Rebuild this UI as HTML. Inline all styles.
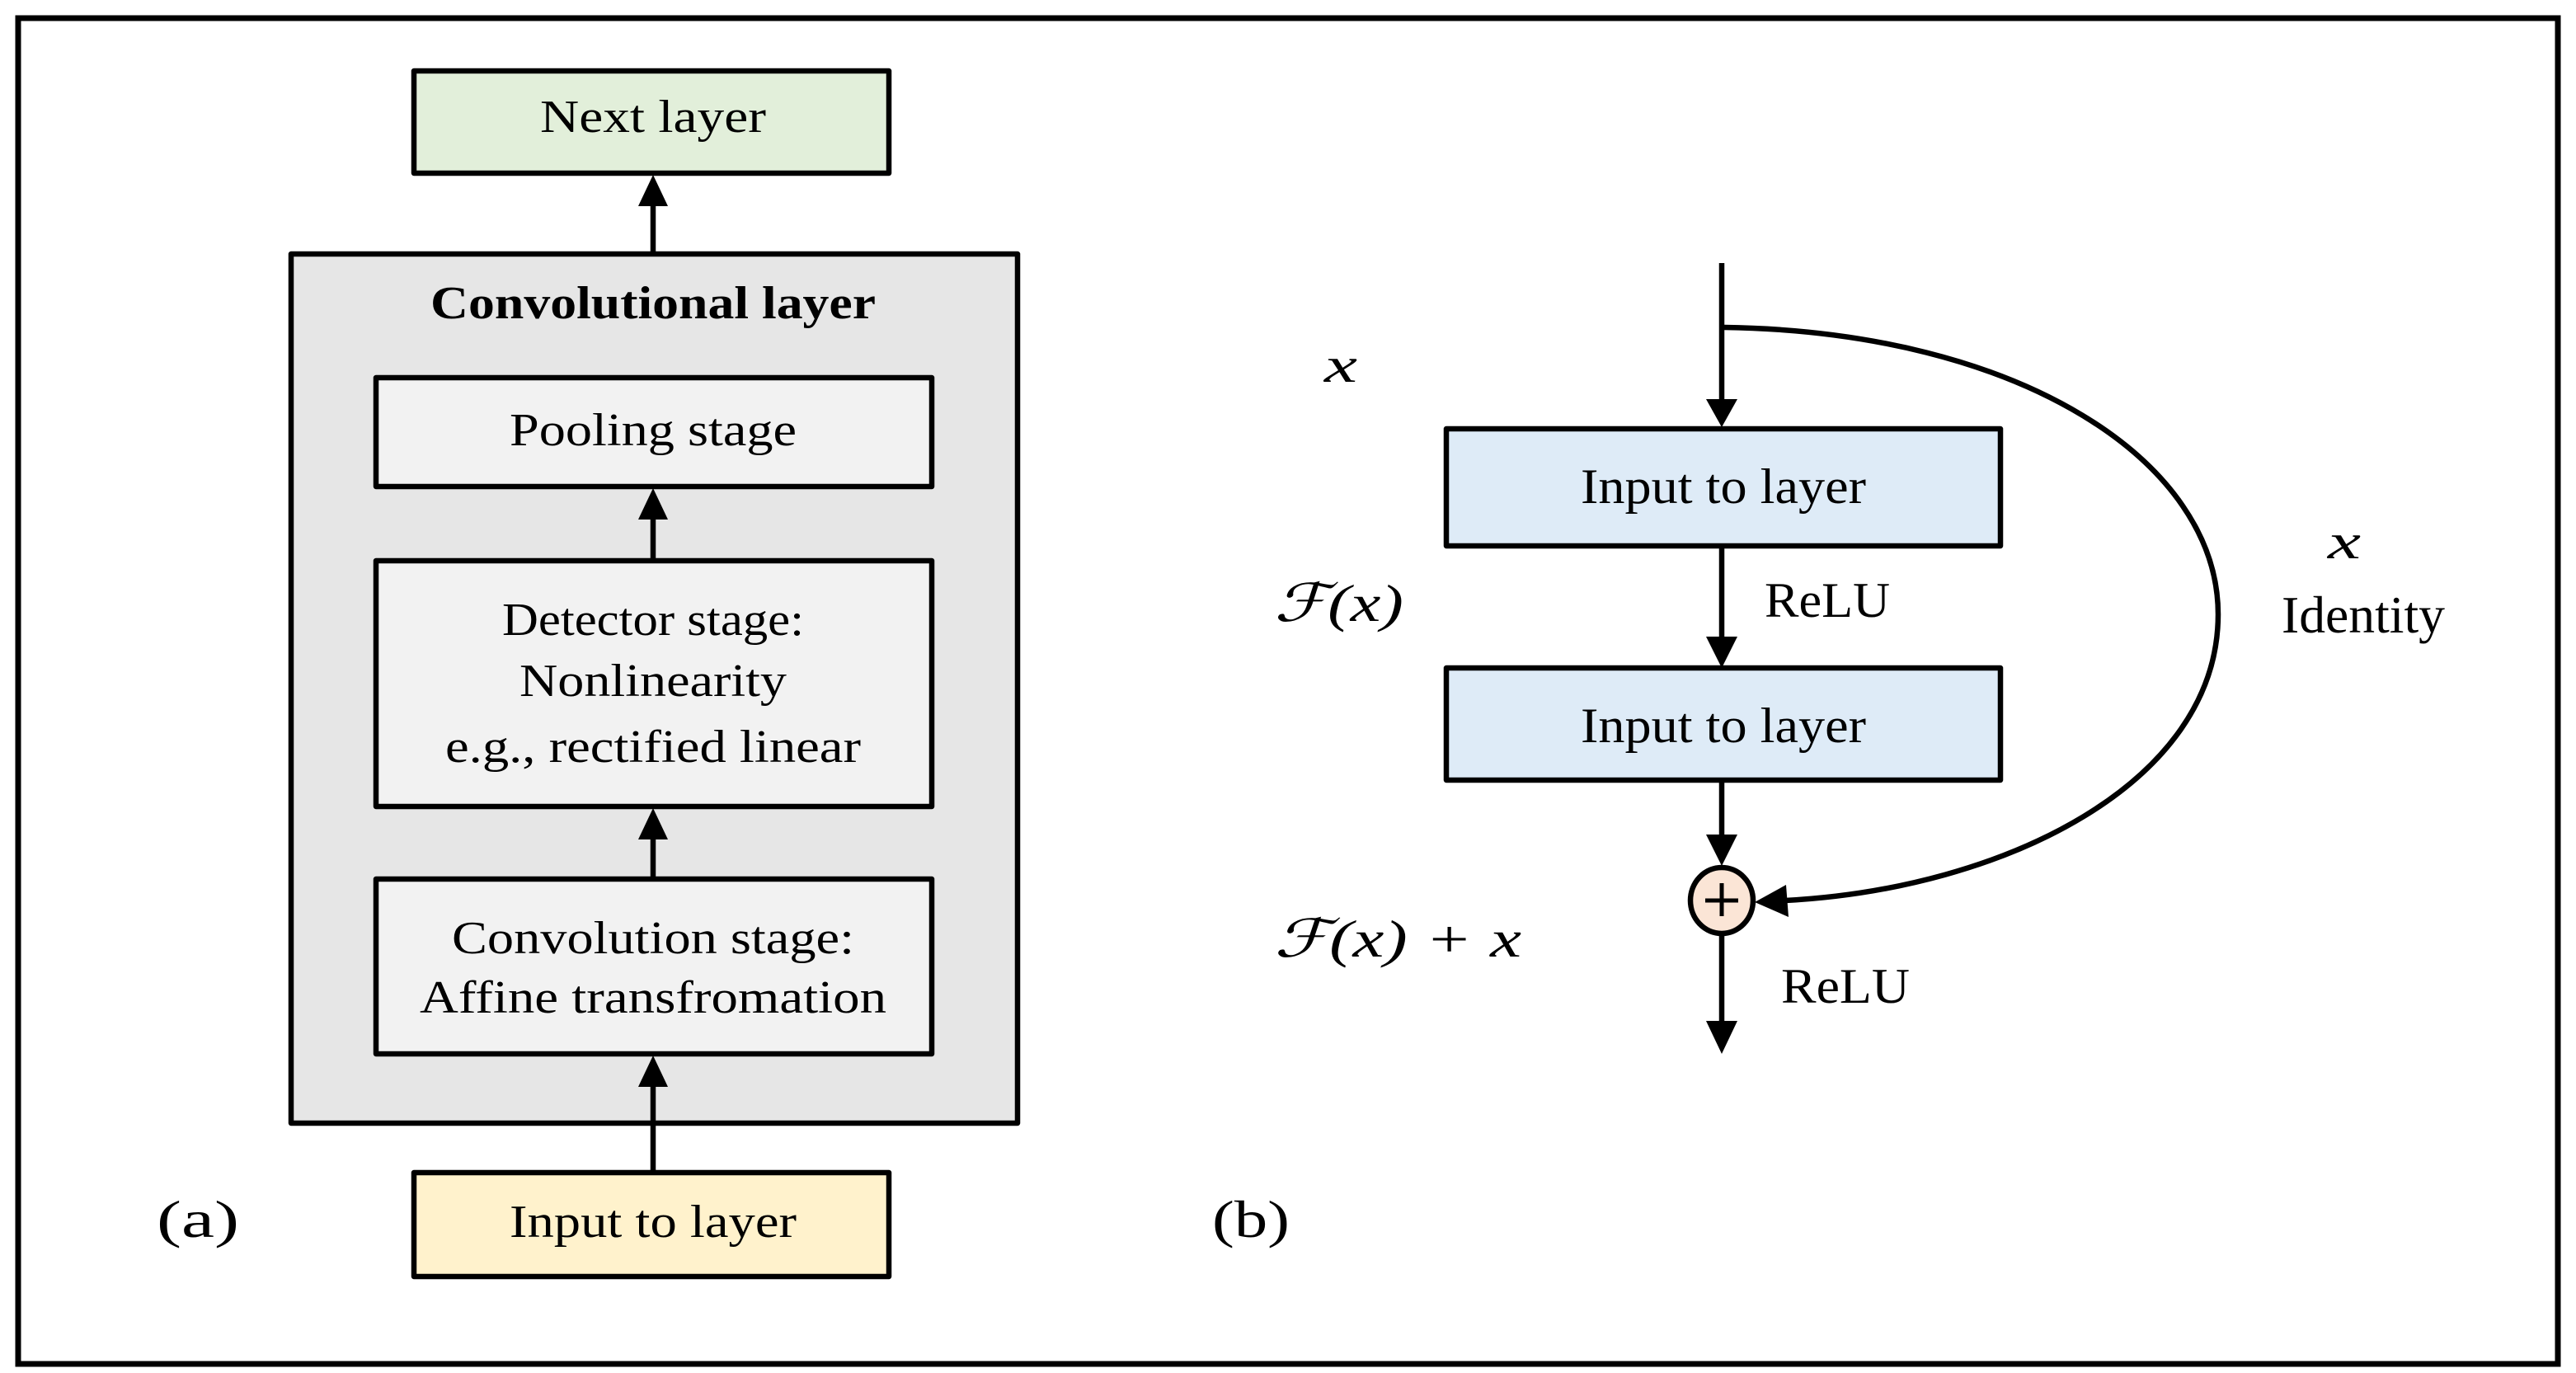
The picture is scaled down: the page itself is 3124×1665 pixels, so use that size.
<!DOCTYPE html>
<html><head><meta charset="utf-8"><style>
html,body{margin:0;padding:0;background:#fff;}
svg{display:block;}
text{font-family:"Liberation Serif",serif;fill:#000;}
</style></head><body>
<svg width="3124" height="1665" viewBox="0 0 3124 1665" xmlns="http://www.w3.org/2000/svg">
<rect x="22" y="22" width="3080" height="1632" fill="#fff" stroke="#000" stroke-width="7"/>
<g stroke="#000" stroke-width="6.5" stroke-linejoin="round">
<rect x="502" y="86" width="576" height="124" fill="#e2efda"/>
<rect x="353" y="308" width="881" height="1054" fill="#e6e6e6"/>
<rect x="456" y="458" width="674" height="132" fill="#f2f2f2"/>
<rect x="456" y="680" width="674" height="298" fill="#f2f2f2"/>
<rect x="456" y="1066" width="674" height="212" fill="#f2f2f2"/>
<rect x="502" y="1422" width="576" height="126" fill="#fff2cc"/>
<line x1="792" y1="308" x2="792" y2="240"/>
<line x1="792" y1="680" x2="792" y2="620"/>
<line x1="792" y1="1066" x2="792" y2="1010"/>
<line x1="792" y1="1420" x2="792" y2="1310"/>
</g>
<g fill="#000">
<polygon points="792,212 774,250 810,250"/>
<polygon points="792,592 774,630 810,630"/>
<polygon points="792,980 774,1018 810,1018"/>
<polygon points="792,1280 774,1318 810,1318"/>
</g>
<text x="792" y="160" font-size="56" text-anchor="middle" textLength="274" lengthAdjust="spacingAndGlyphs">Next layer</text>
<text x="792" y="386" font-size="56" font-weight="bold" text-anchor="middle" textLength="540" lengthAdjust="spacingAndGlyphs">Convolutional layer</text>
<text x="792" y="540" font-size="56" text-anchor="middle" textLength="348" lengthAdjust="spacingAndGlyphs">Pooling stage</text>
<text x="792" y="770" font-size="56" text-anchor="middle" textLength="366" lengthAdjust="spacingAndGlyphs">Detector stage:</text>
<text x="792" y="844" font-size="56" text-anchor="middle" textLength="324" lengthAdjust="spacingAndGlyphs">Nonlinearity</text>
<text x="792" y="924" font-size="56" text-anchor="middle" textLength="504" lengthAdjust="spacingAndGlyphs">e.g., rectified linear</text>
<text x="792" y="1156" font-size="56" text-anchor="middle" textLength="488" lengthAdjust="spacingAndGlyphs">Convolution stage:</text>
<text x="792" y="1228" font-size="56" text-anchor="middle" textLength="566" lengthAdjust="spacingAndGlyphs">Affine transfromation</text>
<text x="792" y="1500" font-size="56" text-anchor="middle" textLength="348" lengthAdjust="spacingAndGlyphs">Input to layer</text>
<text x="190" y="1500" font-size="64" textLength="100" lengthAdjust="spacingAndGlyphs">(a)</text>

<g stroke="#000" stroke-width="6.5" fill="none">
<line x1="2088" y1="319" x2="2088" y2="490"/>
<line x1="2088" y1="663" x2="2088" y2="780"/>
<line x1="2088" y1="946" x2="2088" y2="1020"/>
<line x1="2088" y1="1132" x2="2088" y2="1240"/>
<path d="M2091,397 C2450,402 2690,560 2690,745 C2690,950 2430,1078 2165,1092"/>
</g>
<g stroke="#000" stroke-width="6.5" stroke-linejoin="round">
<rect x="1754" y="520" width="672" height="142" fill="#deebf7"/>
<rect x="1754" y="810" width="672" height="136" fill="#deebf7"/>
<ellipse cx="2088" cy="1092" rx="38" ry="40" fill="#fbe5d6"/>
</g>
<g stroke="#000" stroke-width="5">
<line x1="2068" y1="1092" x2="2108" y2="1092"/>
<line x1="2088" y1="1071" x2="2088" y2="1111"/>
</g>
<g fill="#000">
<polygon points="2088,518 2069,484 2107,484"/>
<polygon points="2088,810 2069,772 2107,772"/>
<polygon points="2088,1050 2069,1012 2107,1012"/>
<polygon points="2088,1278 2069,1238 2107,1238"/>
<polygon points="2128,1094 2166,1073 2169,1112"/>
</g>
<text x="2090" y="610" font-size="60" text-anchor="middle" textLength="346" lengthAdjust="spacingAndGlyphs">Input to layer</text>
<text x="2090" y="900" font-size="60" text-anchor="middle" textLength="346" lengthAdjust="spacingAndGlyphs">Input to layer</text>
<text x="2140" y="748" font-size="60" textLength="152" lengthAdjust="spacingAndGlyphs">ReLU</text>
<text x="2160" y="1216" font-size="60" textLength="156" lengthAdjust="spacingAndGlyphs">ReLU</text>
<text x="2767" y="767" font-size="64" textLength="198" lengthAdjust="spacingAndGlyphs">Identity</text>
<text x="2823" y="677" font-size="60" font-style="italic" textLength="40" lengthAdjust="spacingAndGlyphs">x</text>
<text x="1606" y="463" font-size="60" font-style="italic" textLength="40" lengthAdjust="spacingAndGlyphs">x</text>
<text x="1545" y="753" font-size="64" font-style="italic" textLength="157" lengthAdjust="spacingAndGlyphs">ℱ(x)</text>
<text x="1545" y="1160" font-size="64" font-style="italic" textLength="300" lengthAdjust="spacingAndGlyphs">ℱ(x) + x</text>
<text x="1470" y="1500" font-size="64" textLength="94" lengthAdjust="spacingAndGlyphs">(b)</text>
</svg>
</body></html>
